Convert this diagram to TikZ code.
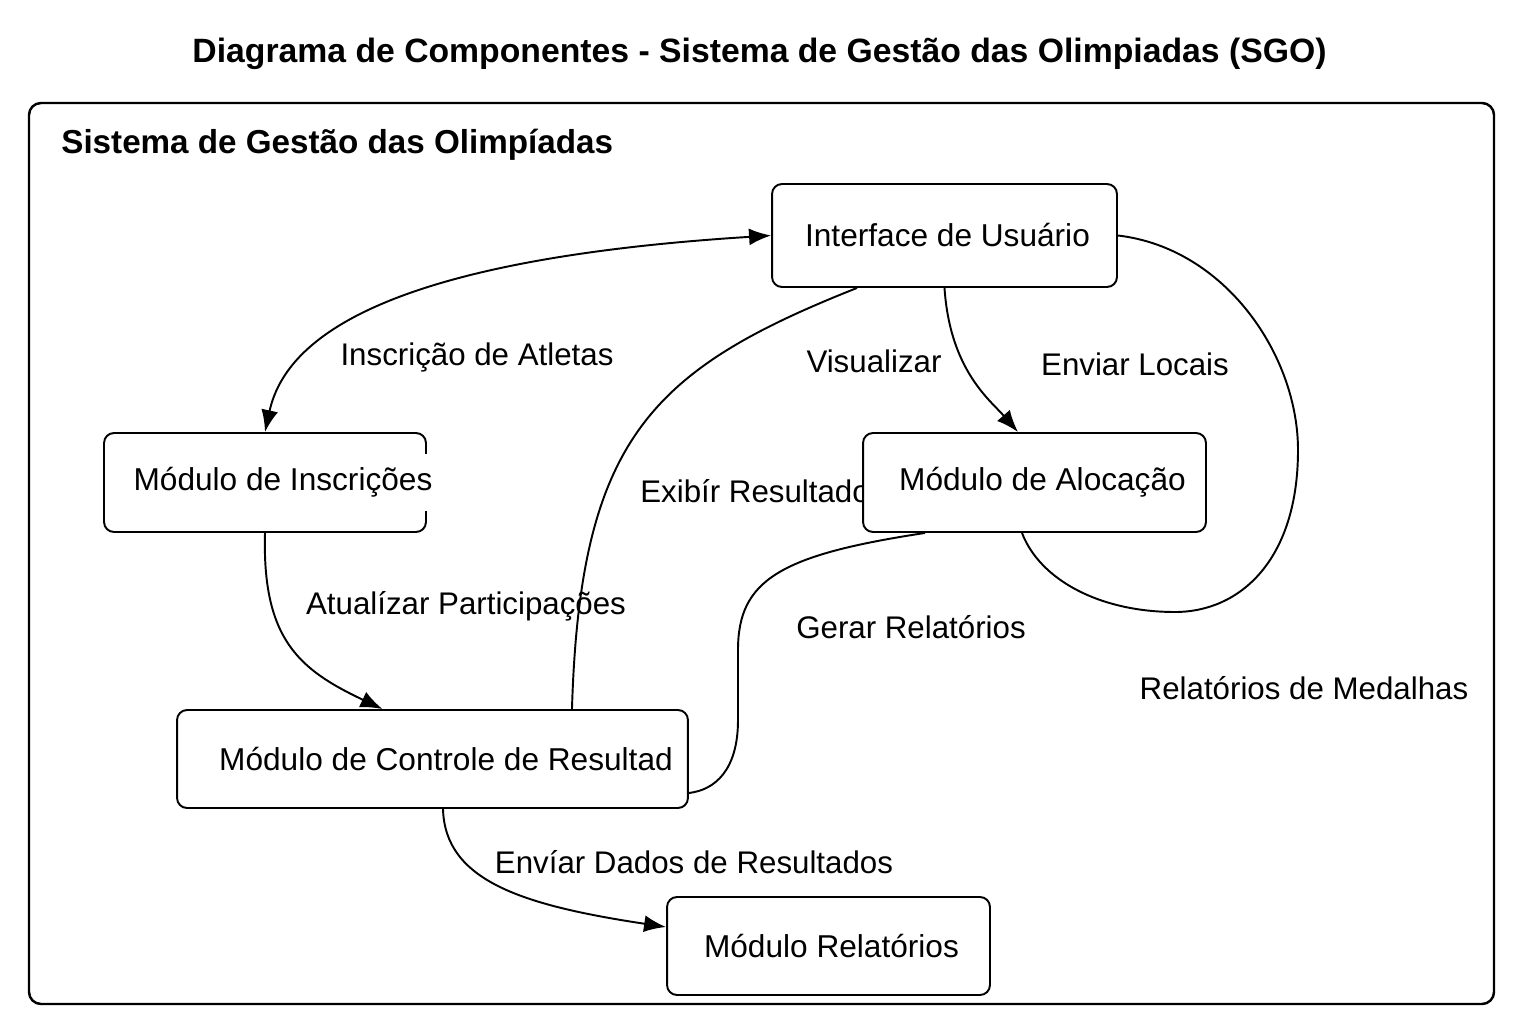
\documentclass[tikz,border=0pt]{standalone}
\usepackage{fontspec}
\setmainfont{Liberation Sans}
\usepackage{tikz}
\usetikzlibrary{arrows.meta,backgrounds}

\begin{document}
\begin{tikzpicture}[x=0.02cm, y=-0.02cm,
	caixa/.style={draw, fill=white, line width=1.1pt, rounded corners=0.2cm, inner sep=0pt, font=\fontsize{18}{22}\selectfont},
	rotulo/.style={inner sep=0pt, font=\fontsize{17.8}{22}\selectfont},
	ligacao/.style={line width=1.1pt},
	seta/.style={ligacao, -{Latex[length=0.44cm, width=0.34cm]}}]
		
		% 1. Area total da figura (em pixels: 1536 x 1024)
		\useasboundingbox (0,0) rectangle (1536,1024);
		
		% Titulo e moldura do sistema
		\node[font=\bfseries\fontsize{19.2}{23}\selectfont] (titulo) at (759.5,54) {Diagrama de Componentes - Sistema de Gestão das Olimpiadas (SGO)};
		\draw[line width=1.4pt, rounded corners=0.24cm] (29,103) rectangle (1494,1004);
		\node[font=\bfseries\fontsize{18.9}{23}\selectfont, anchor=west, inner sep=0pt] (sistema) at (61,145) {Sistema de Gestão das Olimpíadas};
		
		% 2. Componentes
		\node[caixa, minimum width=6.9cm, minimum height=2.06cm] (iu) at (944.5,235.5) {\hspace*{0.12cm}Interface de Usuário};
		\node[caixa, minimum width=6.44cm, minimum height=1.98cm,
			label={[caixa, draw=none, rounded corners=0pt, inner ysep=0.28cm, xshift=0.36cm]center:Módulo de Inscrições}] (insc) at (265,482.5) {};
		\node[caixa, minimum width=6.86cm, minimum height=1.98cm] (aloc) at (1034.5,482.5) {\hspace*{0.32cm}Módulo de Alocação};
		\node[caixa, minimum width=10.22cm, minimum height=1.96cm] (ctrl) at (432.5,759) {\hspace*{0.54cm}Módulo de Controle de Resultad};
		\node[caixa, minimum width=6.46cm, minimum height=1.96cm] (rel) at (828.5,946) {\hspace*{0.12cm}Módulo Relatórios};
		
		% 3. Ligacoes e rotulos (por baixo das caixas)
		\begin{scope}[on background layer]
			\draw[ligacao, {Latex[length=0.44cm, width=0.34cm]}-{Latex[length=0.44cm, width=0.34cm]}] (insc.north) .. controls (285,340) and (380,260) .. (iu.west);
			\draw[seta] (insc.south) .. controls (262,640) and (300,670) .. ([xshift=-1cm]ctrl.north);
			\draw[ligacao] ([xshift=2.79cm]ctrl.north) .. controls (580,440) and (650,370) .. ([xshift=-1.75cm]iu.south);
			\draw[seta] (iu.south) .. controls (950,370) and (990,400) .. ([xshift=-0.33cm]aloc.north);
			\draw[ligacao] (iu.east) .. controls (1225,248) and (1298,355) .. (1298,450)
				.. controls (1298,560) and (1240,612) .. (1175,612)
				.. controls (1100,612) and (1040,580) .. ([xshift=-0.25cm]aloc.south);
			\draw[ligacao] ([xshift=-2.19cm]aloc.south) .. controls (780,555) and (738,580) .. (738,650)
				-- (738,720) .. controls (738,770) and (715,790) .. ([yshift=-0.68cm]ctrl.east);
			\draw[seta] ([xshift=0.21cm]ctrl.south) .. controls (445,880) and (520,905) .. ([yshift=0.38cm]rel.west);
			
			\node[rotulo] (lInsc) at (477,357) {Inscrição de Atletas};
			\node[rotulo] (lAtual) at (466,606) {Atualízar Participações};
			\node[rotulo, anchor=west] (lExib) at (640,491) {Exibír Resultado};
			\node[rotulo] (lVis) at (874,361) {Visualizar};
			\node[rotulo] (lLoc) at (1135,364) {Enviar Locais};
			\node[rotulo] (lGerar) at (911,627) {Gerar Relatórios};
			\node[rotulo] (lMed) at (1304,688) {Relatórios de Medalhas};
			\node[rotulo] (lEnv) at (694,862) {Envíar Dados de Resultados};
		\end{scope}
		
	\end{tikzpicture}
\end{document}
